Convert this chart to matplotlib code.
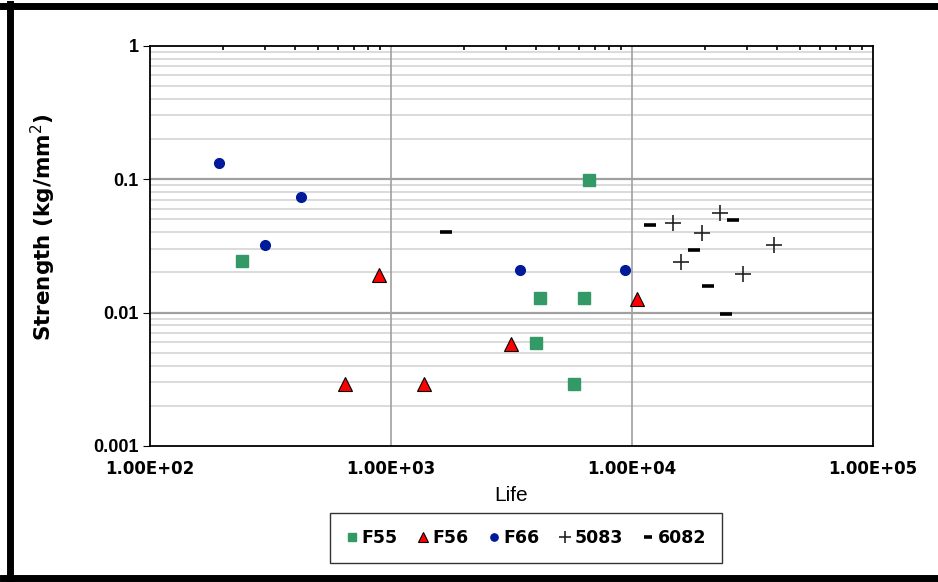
import numpy as np
import matplotlib
matplotlib.use("Agg")
import matplotlib.pyplot as plt
from matplotlib.lines import Line2D
from matplotlib.ticker import FixedLocator, NullFormatter

# data
f55_life = [242, 6660, 4150, 6350, 3980, 5770]
f55_strength = [0.0245, 0.099, 0.0128, 0.0128, 0.0059, 0.0029]

f56_life = [645, 894, 1373, 3155, 10475]
f56_strength = [0.0029, 0.0192, 0.0029, 0.0058, 0.0126]

f66_life = [193, 299, 424, 3420, 9380]
f66_strength = [0.132, 0.032, 0.073, 0.0207, 0.0207]

a5083_life = [14860, 23190, 19460, 38800, 15930, 28970]
a5083_strength = [0.047, 0.056, 0.0396, 0.032, 0.024, 0.0193]

a6082_life = [1690, 11830, 26320, 18160, 20750, 24470]
a6082_strength = [0.0403, 0.045, 0.0493, 0.0294, 0.0157, 0.00975]

x_ticks = [1e2, 1e3, 1e4, 1e5]
x_labels = ["1.00E+02", "1.00E+03", "1.00E+04", "1.00E+05"]
y_ticks = [0.001, 0.01, 0.1, 1]
y_labels = ["0.001", "0.01", "0.1", "1"]

fig = plt.figure(figsize=(9.38, 5.82), dpi=100)
ax = fig.add_axes([150/938, 1-446/582, (873-150)/938, (446-45.7)/582])
ax.set_xscale("log")
ax.set_yscale("log")
ax.set_xlim(1e2, 1e5)
ax.set_ylim(0.001, 1)

# grid
minor_y = [m * 10.0**e for e in range(-3, 0) for m in range(2, 10)]
for v in minor_y:
    ax.axhline(v, color="#d4d4d4", lw=1.2, zorder=0)
for v in y_ticks[1:-1]:
    ax.axhline(v, color="#a0a0a0", lw=1.6, zorder=0)
for v in x_ticks[1:-1]:
    ax.axvline(v, color="#a0a0a0", lw=1.2, zorder=0)

ax.plot(f55_life, f55_strength, ls="none", marker="s", ms=8.5, color="#339966",
        mec="#339966", label="F55", zorder=3)
ax.plot(f56_life, f56_strength, ls="none", marker="^", ms=10, color="#ff0000",
        mec="black", mew=0.8, label="F56", zorder=3)
ax.plot(f66_life, f66_strength, ls="none", marker="o", ms=7, color="#001a99",
        mec="#001a99", label="F66", zorder=3)
ax.plot(a5083_life, a5083_strength, ls="none", marker="+", ms=11, mew=1.2,
        color="#222222", label="5083", zorder=3)
ax.plot(a6082_life, a6082_strength, ls="none", marker="_", ms=8, mew=2.6,
        color="black", label="6082", zorder=3)

# ticks
ax.xaxis.set_major_locator(FixedLocator(x_ticks))
ax.xaxis.set_minor_locator(FixedLocator([m * 10.0**e for e in range(2, 5) for m in range(2, 10)]))
ax.xaxis.set_minor_formatter(NullFormatter())
ax.tick_params(axis="x", which="major", length=0, pad=10)
ax.tick_params(axis="x", which="minor", top=True, bottom=False, direction="in", length=3, width=1.2)
ax.set_xticklabels(x_labels, fontsize=12, fontweight="bold")

ax.yaxis.set_major_locator(FixedLocator(y_ticks))
ax.yaxis.set_minor_locator(FixedLocator([]))
ax.tick_params(axis="y", which="major", length=5, direction="out", pad=3)
ax.set_yticklabels(y_labels, fontsize=13, fontweight="bold", family="Liberation Sans")

for s in ax.spines.values():
    s.set_color("black")
    s.set_linewidth(1.3)

ax.set_xlabel("Life", fontsize=15, family="Liberation Sans", labelpad=6)
ax.set_ylabel("Strength (kg/mm$^2$)", fontsize=15.5, fontweight="bold")
ax.yaxis.set_label_coords(-0.127, 0.545)

leg = fig.legend(loc="center", bbox_to_anchor=(526/938, 1-538/582), ncol=5,
                 frameon=True, fancybox=False, edgecolor="black",
                 prop={"weight": "bold", "size": 12.5}, handlelength=0.7,
                 handletextpad=0.2, columnspacing=1.1, borderpad=0.9,
                 borderaxespad=0, markerscale=0.75)
leg.get_frame().set_linewidth(1.0)

# black frame around the picture
fig.add_artist(Line2D([3/938, 1], [1-6/582, 1-6/582], color="black", lw=5, transform=fig.transFigure))
fig.add_artist(Line2D([10/938, 10/938], [4/582, 1-4/582], color="black", lw=5, transform=fig.transFigure))
fig.add_artist(Line2D([3/938, 1], [4/582, 4/582], color="black", lw=5, transform=fig.transFigure))

fig.savefig("out.png", dpi=100)
